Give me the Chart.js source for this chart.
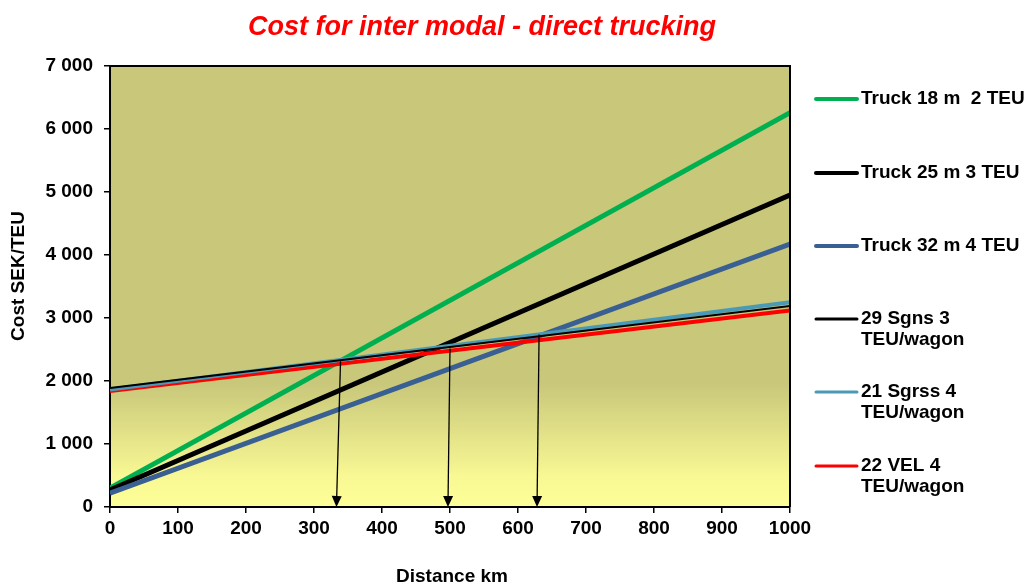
<!DOCTYPE html>
<html>
<head>
<meta charset="utf-8">
<script src="https://cdn.jsdelivr.net/npm/chart.js@4/dist/chart.umd.min.js"></script>
<style>
html,body{margin:0;padding:0;background:#fff;}
#wrap{position:relative;width:1034px;height:583px;}
</style>
</head>
<body>
<div id="wrap"><canvas id="c" width="1034" height="583"></canvas></div>
<script>
// ---- data ----
const distances = [0, 1000];
const truck18 = [300, 6260];
const truck25 = [270, 4950];
const truck32 = [220, 4175];
const sgns29 = [1890, 3190];
const sgrss21 = [1865, 3250];
const vel22 = [1840, 3120];
const seriesNames = ['Truck 18 m  2 TEU', 'Truck 25 m 3 TEU', 'Truck 32 m 4 TEU', ['29 Sgns 3', 'TEU/wagon'], ['21 Sgrss 4', 'TEU/wagon'], ['22 VEL 4', 'TEU/wagon']];
const seriesColors = ['#00B050', '#000000', '#3A6093', '#000000', '#4A9AB6', '#FF0000'];
const seriesWidths = [5, 5, 5, 2, 4, 4];
// arrows: start (x,y) -> end (x,y) in data units
const arrowStartX = [339, 500, 631];
const arrowStartY = [2313, 2515, 2738];
const arrowEndX = [333, 497, 628];
const arrowEndY = [0, 0, 0];
const yTicks = [0, 1000, 2000, 3000, 4000, 5000, 6000, 7000];
const xTicks = [0, 100, 200, 300, 400, 500, 600, 700, 800, 900, 1000];
const titleText = 'Cost for inter modal - direct trucking';
const yTitle = 'Cost SEK/TEU';
const xTitle = 'Distance km';

const allSeries = [truck18, truck25, truck32, sgns29, sgrss21, vel22];
const drawOrder = [6, 5, 4, 1, 2, 3]; // higher = drawn first (underneath)
const datasets = allSeries.map((s, i) => ({
  label: Array.isArray(seriesNames[i]) ? seriesNames[i].join(' ') : seriesNames[i],
  data: s.map((v, j) => ({x: distances[j], y: v})),
  borderColor: seriesColors[i],
  backgroundColor: seriesColors[i],
  borderWidth: seriesWidths[i],
  pointRadius: 0,
  tension: 0,
  fill: false,
  order: drawOrder[i]
}));

const FONT = '"Liberation Sans", Arial, sans-serif';

const bgPlugin = {
  id: 'bg',
  beforeDraw(chart) {
    const {ctx, chartArea: a} = chart;
    const g = ctx.createLinearGradient(0, a.top, 0, a.bottom);
    g.addColorStop(0, '#C9C77A');
    g.addColorStop(0.72, '#C9C77A');
    g.addColorStop(0.93, '#F8F894');
    g.addColorStop(1, '#FFFF99');
    ctx.save();
    ctx.fillStyle = g;
    ctx.fillRect(a.left, a.top, a.right - a.left, a.bottom - a.top);
    ctx.restore();
  }
};

const overlayPlugin = {
  id: 'overlay',
  afterDatasetsDraw(chart) {
    const {ctx, chartArea: a, scales: {x, y}} = chart;
    ctx.save();
    for (let i = 0; i < arrowStartX.length; i++) {
      const x1 = x.getPixelForValue(arrowStartX[i]);
      const y1 = y.getPixelForValue(arrowStartY[i]);
      const x2 = x.getPixelForValue(arrowEndX[i]);
      const y2 = y.getPixelForValue(arrowEndY[i]);
      const ang = Math.atan2(y2 - y1, x2 - x1);
      const hl = 11, hw = 5;
      const bx = x2 - hl * Math.cos(ang), by = y2 - hl * Math.sin(ang);
      ctx.strokeStyle = '#000';
      ctx.lineWidth = 1.3;
      ctx.beginPath();
      ctx.moveTo(x1, y1);
      ctx.lineTo(bx, by);
      ctx.stroke();
      ctx.fillStyle = '#000';
      ctx.beginPath();
      ctx.moveTo(x2, y2);
      ctx.lineTo(bx + hw * Math.sin(ang), by - hw * Math.cos(ang));
      ctx.lineTo(bx - hw * Math.sin(ang), by + hw * Math.cos(ang));
      ctx.closePath();
      ctx.fill();
    }
    ctx.restore();
  },
  afterDraw(chart) {
    const {ctx, chartArea: a} = chart;
    ctx.save();
    ctx.strokeStyle = '#000';
    ctx.lineWidth = 2;
    ctx.beginPath();
    ctx.moveTo(a.left, a.top);
    ctx.lineTo(a.right, a.top);
    ctx.lineTo(a.right, a.bottom);
    ctx.stroke();
    // title
    ctx.fillStyle = '#FF0000';
    ctx.font = 'italic bold 27px ' + FONT;
    ctx.textAlign = 'center';
    ctx.textBaseline = 'middle';
    ctx.fillText(titleText, 482, 28);
    // axis titles
    ctx.fillStyle = '#000';
    ctx.font = 'bold 19px ' + FONT;
    ctx.fillText(xTitle, 452, 577);
    ctx.save();
    ctx.translate(19, 276);
    ctx.rotate(-Math.PI / 2);
    ctx.fillText(yTitle, 0, 0);
    ctx.restore();
    // legend
    const legY = [99, 173, 246, 319, 392, 466];
    ctx.font = 'bold 19px ' + FONT;
    ctx.textAlign = 'left';
    ctx.textBaseline = 'middle';
    for (let i = 0; i < seriesNames.length; i++) {
      ctx.strokeStyle = seriesColors[i];
      ctx.lineWidth = i < 3 ? 4 : 3;
      ctx.lineCap = 'round';
      ctx.beginPath();
      ctx.moveTo(816, legY[i]);
      ctx.lineTo(857, legY[i]);
      ctx.stroke();
      ctx.fillStyle = '#000';
      const lines = Array.isArray(seriesNames[i]) ? seriesNames[i] : [seriesNames[i]];
      lines.forEach((t, k) => ctx.fillText(t, 861, legY[i] + k * 21));
    }
    ctx.restore();
  }
};

new Chart(document.getElementById('c'), {
  type: 'line',
  data: {datasets},
  options: {
    responsive: false,
    animation: false,
    layout: {padding: {top: 66, right: 244, left: 0, bottom: 0}},
    plugins: {legend: {display: false}, tooltip: {enabled: false}, title: {display: false}},
    scales: {
      x: {
        type: 'linear', min: 0, max: 1000,
        afterBuildTicks: s => { s.ticks = xTicks.map(v => ({value: v})); },
        afterFit: s => { s.height = 76; },
        grid: {drawOnChartArea: false, drawTicks: true, tickLength: 6, color: '#000', lineWidth: 1.5},
        border: {display: true, color: '#000', width: 2},
        ticks: {color: '#000', font: {family: FONT, size: 19, weight: 'bold'}, padding: 4, maxRotation: 0, autoSkip: false,
          callback: v => String(v)}
      },
      y: {
        type: 'linear', min: 0, max: 7000,
        afterBuildTicks: s => { s.ticks = yTicks.map(v => ({value: v})); },
        afterFit: s => { s.width = 110; },
        grid: {drawOnChartArea: false, drawTicks: true, tickLength: 6, color: '#000', lineWidth: 1.5},
        border: {display: true, color: '#000', width: 2},
        ticks: {color: '#000', font: {family: FONT, size: 19, weight: 'bold'}, padding: 11,
          callback: v => v === 0 ? '0' : String(v).replace(/\B(?=(\d{3})+(?!\d))/g, ' ')}
      }
    }
  },
  plugins: [bgPlugin, overlayPlugin]
});
</script>
</body>
</html>
